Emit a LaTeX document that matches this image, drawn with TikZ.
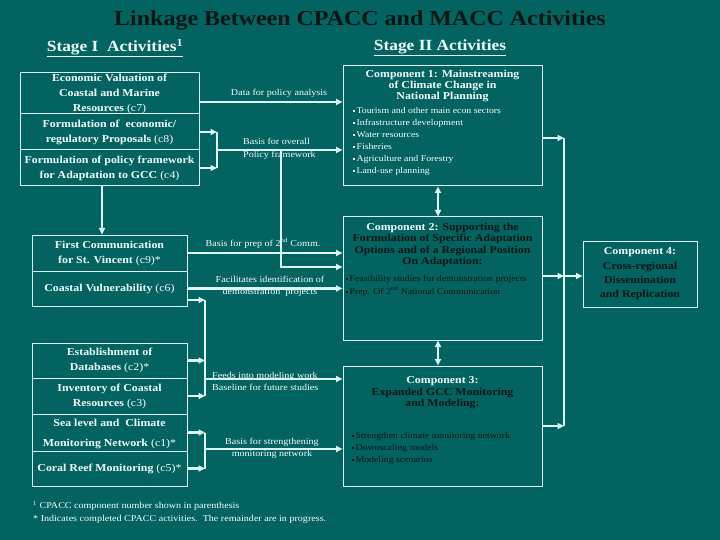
\documentclass[tikz,border=0pt]{standalone}
\usepackage{fontspec}
\setmainfont[FakeStretch=1.12]{Liberation Serif}
\usetikzlibrary{arrows.meta}
\definecolor{SlideTeal}{HTML}{026360}
\definecolor{SlideLine}{HTML}{DDF7F5}
\definecolor{SlideText}{HTML}{F2FFFF}
\definecolor{SlideDark}{HTML}{0B1614}
\newcommand{\sqbul}{\rule[0.3ex]{2.2pt}{2.2pt}\hspace{1.2pt}}

\begin{document}
\begin{tikzpicture}[x=1pt, y=-1pt,
  every node/.style={inner sep=0pt, text=SlideText},
  actbox/.style={draw=SlideLine, line width=1pt, align=center, font=\fontsize{10.6}{15}\selectfont\bfseries},
  compbox/.style={draw=SlideLine, line width=1pt, minimum width=199pt},
  comptitle/.style={align=center, font=\fontsize{10.6}{11.4}\selectfont\bfseries},
  bullets/.style={align=left, anchor=west, font=\fontsize{8.75}{12}\selectfont},
  linklabel/.style={align=center, font=\fontsize{9}{12}\selectfont},
  link/.style={draw=SlideLine, line width=2.1pt},
  arr/.style={link, -{Triangle[length=6.5pt, width=6pt]}},
  bothway/.style={link, {Triangle[length=6.5pt, width=6pt]}-{Triangle[length=6.5pt, width=6pt]}}
]
  \fill[SlideTeal] (0,0) rectangle (720,540);

  \node[font=\fontsize{21.4}{24}\selectfont\bfseries, text=SlideDark] (title) at (360,20) {Linkage Between CPACC and MACC Activities};
  \node[font=\fontsize{15.5}{18}\selectfont\bfseries] (stage1) at (115,48) {\underline{Stage I\ \ Activities\textsuperscript{1}}};
  \node[font=\fontsize{15.5}{18}\selectfont\bfseries] (stage2) at (440,48) {\underline{Stage II Activities}};

  \node[actbox, minimum width=179pt, minimum height=41pt] (c7) at (109.5,93.5) {Economic Valuation of\\Coastal and Marine\\Resources {\mdseries(c7)}};
  \node[actbox, minimum width=179pt, minimum height=36pt] (c8) at (109.5,132) {Formulation of\ \ economic/\\regulatory Proposals {\mdseries(c8)}};
  \node[actbox, minimum width=179pt, minimum height=36pt] (c4) at (109.5,168) {Formulation of policy framework\\for Adaptation to GCC {\mdseries(c4)}};

  \node[actbox, minimum width=155pt, minimum height=36pt] (c9) at (109.5,253) {First Communication\\for St. Vincent {\mdseries(c9)*}};
  \node[actbox, minimum width=155pt, minimum height=35pt] (c6) at (109.5,288.5) {Coastal Vulnerability {\mdseries(c6)}};

  \node[actbox, minimum width=155pt, minimum height=35pt] (c2) at (109.5,360.5) {Establishment of\\Databases {\mdseries(c2)*}};
  \node[actbox, minimum width=155pt, minimum height=36pt] (c3) at (109.5,396) {Inventory of Coastal\\Resources {\mdseries(c3)}};
  \node[actbox, minimum width=155pt, minimum height=37pt] (c1) at (109.5,432.5) {\rule{0pt}{10pt}Sea level and\ \ Climate\\[5pt]Monitoring Network {\mdseries(c1)*}};
  \node[actbox, minimum width=155pt, minimum height=35pt] (c5) at (109.5,468.5) {Coral Reef Monitoring {\mdseries(c5)*}};

  \node[compbox, minimum height=120pt] (comp1) at (442.5,126) {};
  \node[comptitle] (comp1title) at (442.5,86) {Component 1: Mainstreaming\\of Climate Change in\\National Planning};
  \node[bullets] (comp1list) at (353,141) {\sqbul Tourism and other main econ sectors\\\sqbul Infrastructure development\\\sqbul Water resources\\\sqbul Fisheries\\\sqbul Agriculture and Forestry\\\sqbul Land-use planning};

  \node[compbox, minimum height=123pt] (comp2) at (442.5,278.5) {};
  \node[comptitle, font=\fontsize{10.6}{11.3}\selectfont\bfseries] (comp2title) at (442.5,245) {Component 2: \textcolor{SlideDark}{Supporting the}\\\textcolor{SlideDark}{Formulation of Specific Adaptation}\\\textcolor{SlideDark}{Options and of a Regional Position}\\\textcolor{SlideDark}{On Adaptation:}};
  \node[bullets, text=SlideDark, font=\fontsize{8.75}{13}\selectfont] (comp2list) at (346,285.5) {\sqbul Feasibility studies for demonstration projects\\\sqbul Prep. Of 2\textsuperscript{nd} National Communication};

  \node[compbox, minimum height=120pt] (comp3) at (442.5,426) {};
  \node[comptitle] (comp3title) at (442.5,393) {Component 3:\\\textcolor{SlideDark}{Expanded GCC Monitoring}\\\textcolor{SlideDark}{and Modeling:}};
  \node[bullets, text=SlideDark] (comp3list) at (352,448) {\sqbul Strengthen climate monitoring network\\\sqbul Downscaling models\\\sqbul Modeling scenarios};

  \node[draw=SlideLine, line width=1pt, minimum width=114pt, minimum height=66pt, align=center, font=\fontsize{10.6}{14.4}\selectfont\bfseries] (comp4) at (640,274) {Component 4:\\\textcolor{SlideDark}{Cross-regional}\\\textcolor{SlideDark}{Dissemination}\\\textcolor{SlideDark}{and Replication}};

  \node[linklabel] (lbdata) at (279,93) {Data for policy analysis};
  \node[linklabel, align=left, anchor=west, font=\fontsize{9}{13}\selectfont] (lbpolicy) at (243,148.5) {Basis for overall\\Policy framework};
  \node[linklabel] (lbprep) at (263,243) {Basis for prep of 2\textsuperscript{nd} Comm.};
  \node[linklabel] (lbdemo) at (270,286) {Facilitates identification of\\demonstration\ \ projects};
  \node[linklabel, align=left, anchor=west] (lbfeeds) at (212,381) {Feeds into modeling work\\Baseline for future studies};
  \node[linklabel] (lbmon) at (272,448) {Basis for strengthening\\monitoring network};

  \node[align=left, anchor=west, font=\fontsize{9}{13}\selectfont] (notes) at (33,512.5) {\textsuperscript{1} CPACC component number shown in parenthesis\\* Indicates completed CPACC activities.\ \ The remainder are in progress.};

  \coordinate (datay) at (0,102);
  \coordinate (polbar) at (217,150);
  \coordinate (polturn) at (281,150);
  \coordinate (polend) at (281,267);
  \coordinate (downx) at (102,0);
  \coordinate (c6low) at (0,300);
  \coordinate (databar) at (205,379);
  \coordinate (monbar) at (205,449);
  \coordinate (midx) at (438,0);
  \coordinate (c1out) at (0,138);
  \coordinate (rbar) at (564,276);

  \draw[arr] (c7.east |- datay) -- (comp1.west |- datay);
  \draw[arr] (c8.east) -- (c8.east -| polbar);
  \draw[arr] (c4.east) -- (c4.east -| polbar);
  \draw[link] (c8.east -| polbar) -- (c4.east -| polbar);
  \draw[arr] (polbar) -- (polbar -| comp1.west);
  \draw[arr] (polturn) -- (polend) -- (polend -| comp2.west);
  \draw[arr] (c4.south -| downx) -- (c9.north -| downx);

  \draw[arr] (c9.east) -- (c9.east -| comp2.west);
  \draw[arr] (c6.east) -- (c6.east -| comp2.west);
  \draw[arr] (c6.east |- c6low) -- (c6low -| databar);
  \draw[arr] (c2.east) -- (c2.east -| databar);
  \draw[arr] (c3.east) -- (c3.east -| databar);
  \draw[link] (c6low -| databar) -- (c3.east -| databar);
  \draw[arr] (databar) -- (databar -| comp3.west);

  \draw[arr] (c1.east) -- (c1.east -| monbar);
  \draw[arr] (c5.east) -- (c5.east -| monbar);
  \draw[link] (c1.east -| monbar) -- (c5.east -| monbar);
  \draw[arr] (monbar) -- (monbar -| comp3.west);

  \draw[bothway] (comp1.south -| midx) -- (comp2.north -| midx);
  \draw[bothway] (comp2.south -| midx) -- (comp3.north -| midx);

  \draw[arr] (comp1.east |- c1out) -- (c1out -| rbar);
  \draw[arr] (comp2.east |- rbar) -- (rbar);
  \draw[arr] (comp3.east) -- (comp3.east -| rbar);
  \draw[link] (c1out -| rbar) -- (comp3.east -| rbar);
  \draw[arr] (rbar) -- (rbar -| comp4.west);
\end{tikzpicture}
\end{document}
